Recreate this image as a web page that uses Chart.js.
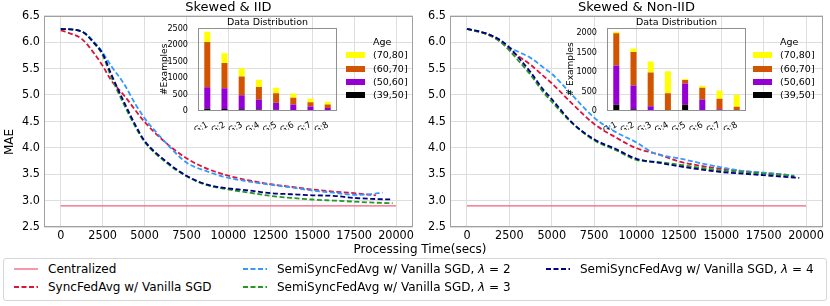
<!DOCTYPE html>
<html>
<head>
<meta charset="utf-8">
<script src="https://cdn.jsdelivr.net/npm/chart.js@4/dist/chart.umd.min.js"></script>
<style>
body { margin: 0; width: 830px; height: 306px; background: #fff; position: relative; overflow: hidden; font-family: 'DejaVu Sans', sans-serif; color: #000; }
canvas, .abs { position: absolute; }
.lbl { position: absolute; white-space: nowrap; font-size: 12px; }
.age { position: absolute; font-size: 9.5px; }
.age .row { position: absolute; left: 0; white-space: nowrap; height: 10px; line-height: 10px; }
.age .box { position: absolute; width: 19px; height: 6px; }
#legend { position: absolute; left: 3px; top: 258px; width: 822px; height: 41px; border: 1px solid #d6d6d6; border-radius: 3px; }
#legend .item { position: absolute; white-space: nowrap; font-size: 12px; line-height: 14px; }
#legend svg { position: absolute; }
</style>
</head>
<body>
<canvas id="mainL" width="415" height="250" style="left:0;top:0"></canvas>
<canvas id="mainR" width="415" height="250" style="left:415px;top:0"></canvas>
<canvas id="insetL" width="185" height="120" style="left:155px;top:10px"></canvas>
<canvas id="insetR" width="189" height="120" style="left:560px;top:10px"></canvas>
<div class="age" id="ageL" style="left:346px;top:37px"></div>
<div class="age" id="ageR" style="left:753px;top:37px"></div>
<div class="lbl" style="left:0;top:142px;transform:translate(-11px,-7px) rotate(-90deg);transform-origin:50% 50%;width:40px;text-align:center">MAE</div>
<div class="lbl" style="left:340px;top:242px;width:160px;text-align:center">Processing Time(secs)</div>
<div id="legend"></div>
<script>
// ---- main curves: time (secs) / MAE ----
const timeTicks = [0, 2500, 5000, 7500, 10000, 12500, 15000, 17500, 20000];
const maeTicks = [2.5, 3.0, 3.5, 4.0, 4.5, 5.0, 5.5, 6.0, 6.5];

const centralTime = [0, 20000];
const centralMae = [2.9, 2.9];

// Skewed & IID
const iidSyncTime = [0, 500, 1250, 2000, 2500, 3000, 3750, 5000, 6250, 7500, 8750, 10000, 11250, 12500, 13750, 15000, 16250, 17500, 18800];
const iidSyncMae = [6.22, 6.17, 6.06, 5.78, 5.55, 5.28, 5.0, 4.49, 4.1, 3.8, 3.6, 3.47, 3.38, 3.31, 3.26, 3.21, 3.17, 3.14, 3.1];
const iidL2Time = [0, 1250, 2000, 2500, 3000, 3750, 4500, 5000, 6250, 7500, 8750, 10000, 11250, 12500, 13750, 15000, 16250, 17500, 18500, 19200];
const iidL2Mae = [6.25, 6.2, 6.0, 5.8, 5.55, 5.22, 4.8, 4.56, 4.1, 3.72, 3.55, 3.43, 3.36, 3.3, 3.25, 3.19, 3.15, 3.11, 3.12, 3.15];
const iidL3Time = [0, 1250, 2000, 2500, 3000, 3750, 4500, 5000, 6250, 7500, 8750, 10000, 11250, 12500, 13750, 15000, 16250, 17500, 18750, 19800];
const iidL3Mae = [6.25, 6.2, 5.97, 5.75, 5.35, 4.83, 4.37, 4.11, 3.73, 3.46, 3.29, 3.21, 3.15, 3.09, 3.05, 3.02, 3.0, 2.98, 2.96, 2.95];
const iidL4Time = [0, 1250, 2000, 2500, 3000, 3750, 4500, 5000, 6250, 7500, 8750, 10000, 11250, 12500, 13750, 15000, 16250, 17500, 18750, 19800];
const iidL4Mae = [6.25, 6.2, 5.98, 5.78, 5.4, 4.88, 4.4, 4.13, 3.75, 3.47, 3.3, 3.23, 3.19, 3.14, 3.12, 3.1, 3.09, 3.05, 3.03, 3.02];

// Skewed & Non-IID
const nonSyncTime = [0, 1250, 2000, 2500, 3000, 3750, 4500, 5000, 6250, 7500, 8750, 10000, 11250, 12500, 13750, 15000, 16250, 17500, 18750, 19300];
const nonSyncMae = [6.25, 6.14, 6.0, 5.86, 5.74, 5.57, 5.36, 5.22, 4.82, 4.45, 4.2, 3.99, 3.88, 3.74, 3.66, 3.6, 3.56, 3.52, 3.49, 3.46];
const nonL2Time = [0, 1250, 2000, 2500, 3000, 3750, 4500, 5000, 6250, 7500, 8750, 10000, 11000, 12500, 13750, 15000, 15500, 16250, 17500, 18750, 19300];
const nonL2Mae = [6.25, 6.15, 6.02, 5.9, 5.82, 5.7, 5.52, 5.4, 4.98, 4.57, 4.3, 4.1, 3.9, 3.8, 3.71, 3.63, 3.6, 3.56, 3.53, 3.49, 3.47];
const nonL3Time = [0, 1250, 2000, 2500, 3000, 3750, 4500, 5000, 6250, 7500, 8750, 10000, 11250, 12500, 13750, 15000, 16250, 17500, 18750, 19300];
const nonL3Mae = [6.25, 6.14, 6.0, 5.84, 5.66, 5.38, 5.05, 4.87, 4.45, 4.14, 3.96, 3.77, 3.73, 3.68, 3.62, 3.57, 3.54, 3.51, 3.48, 3.46];
const nonL4Time = [0, 1250, 2000, 2500, 3000, 3750, 4500, 5000, 6250, 7500, 8750, 10000, 11250, 12500, 13750, 15000, 16250, 17500, 18750, 19600];
const nonL4Mae = [6.25, 6.15, 6.03, 5.9, 5.72, 5.43, 5.1, 4.92, 4.46, 4.16, 3.98, 3.79, 3.72, 3.65, 3.59, 3.54, 3.51, 3.48, 3.45, 3.43];

const seriesNames = ['Centralized', 'SyncFedAvg w/ Vanilla SGD',
  'SemiSyncFedAvg w/ Vanilla SGD, λ = 2', 'SemiSyncFedAvg w/ Vanilla SGD, λ = 3', 'SemiSyncFedAvg w/ Vanilla SGD, λ = 4'];
const seriesColors = ['#f0607c', '#dc143c', '#3399ff', '#229922', '#000080'];

// ---- inset: data distribution per group ----
const groups = ['G:1', 'G:2', 'G:3', 'G:4', 'G:5', 'G:6', 'G:7', 'G:8'];
const ageLabels = ['(39,50]', '(50,60]', '(60,70]', '(70,80]'];
const ageColors = ['#000000', '#9400d3', '#d35400', '#ffff00'];
const iidAge39 = [70, 55, 45, 40, 30, 20, 15, 10];
const iidAge50 = [640, 625, 425, 300, 210, 165, 115, 75];
const iidAge60 = [1380, 770, 570, 385, 290, 210, 125, 100];
const iidAge70 = [310, 300, 250, 220, 165, 125, 110, 90];
const nonAge39 = [150, 35, 0, 0, 155, 10, 0, 0];
const nonAge50 = [1010, 615, 115, 0, 545, 275, 40, 0];
const nonAge60 = [830, 860, 865, 450, 90, 305, 265, 100];
const nonAge70 = [40, 90, 285, 565, 25, 50, 215, 310];
const iidCountTicks = [0, 500, 1000, 1500, 2000, 2500];
const nonCountTicks = [0, 250, 500, 750, 1000, 1250, 1500, 1750, 2000];

const FONT = "'DejaVu Sans', sans-serif";
const COND = "'DejaVu Sans Condensed', 'DejaVu Sans', sans-serif";
const GRID = '#dedede';

// box round the plot area, like matplotlib spines
const frame = {
  id: 'frame',
  afterDatasetsDraw(chart, args, opts) {
    const a = chart.chartArea, ctx = chart.ctx;
    ctx.save();
    ctx.strokeStyle = opts.color || '#999';
    ctx.lineWidth = 1;
    ctx.strokeRect(Math.round(a.left) + 0.5, Math.round(a.top) + 0.5, Math.round(a.width) - 1, Math.round(a.height) - 1);
    ctx.restore();
  }
};
Chart.register(frame);

function curve(i, xs, ys) {
  return {
    label: seriesNames[i],
    data: xs.map((x, k) => ({ x: x, y: ys[k] })),
    borderColor: seriesColors[i],
    borderWidth: i === 0 ? 1.3 : 1.8,
    borderDash: i === 0 ? [] : [5, 2.5],
    pointRadius: 0,
    fill: false,
    cubicInterpolationMode: 'monotone',
    order: 4 - i
  };
}

function mainOptions(title, yWidth, padRight) {
  return {
    responsive: false,
    animation: false,
    layout: { padding: { left: 0, right: padRight, top: 0, bottom: 0 } },
    plugins: {
      legend: { display: false },
      tooltip: { enabled: false },
      title: { display: true, text: title, fullSize: false, color: '#000',
        font: { family: FONT, size: 13, weight: 'normal', lineHeight: 1.2 }, padding: { top: 0, bottom: 0 } },
      frame: { color: '#a0a0a0' }
    },
    scales: {
      x: {
        type: 'linear', min: -1000, max: 21000,
        afterBuildTicks: s => { s.ticks = timeTicks.map(v => ({ value: v })); },
        afterFit: s => { s.height = 23; },
        grid: { color: GRID, drawTicks: false },
        border: { display: false },
        ticks: { color: '#000', padding: 1, autoSkip: false, maxRotation: 0, callback: v => String(v),
          font: { family: COND, size: 12.5 } }
      },
      y: {
        min: 2.5, max: 6.5,
        afterBuildTicks: s => { s.ticks = maeTicks.map(v => ({ value: v })); },
        afterFit: s => { s.width = yWidth; },
        grid: { color: GRID, drawTicks: false },
        border: { display: false },
        ticks: { color: '#000', padding: 4, callback: v => v.toFixed(1), font: { family: COND, size: 12.5 } }
      }
    }
  };
}

new Chart(document.getElementById('mainL'), {
  type: 'line',
  data: { datasets: [
    curve(0, centralTime, centralMae),
    curve(1, iidSyncTime, iidSyncMae),
    curve(2, iidL2Time, iidL2Mae),
    curve(3, iidL3Time, iidL3Mae),
    curve(4, iidL4Time, iidL4Mae)
  ] },
  options: mainOptions('Skewed & IID', 44, 2)
});

new Chart(document.getElementById('mainR'), {
  type: 'line',
  data: { datasets: [
    curve(0, centralTime, centralMae),
    curve(1, nonSyncTime, nonSyncMae),
    curve(2, nonL2Time, nonL2Mae),
    curve(3, nonL3Time, nonL3Mae),
    curve(4, nonL4Time, nonL4Mae)
  ] },
  options: mainOptions('Skewed & Non-IID', 35, 7)
});

function bars(i, values) {
  return {
    label: ageLabels[i],
    data: values.map((v, k) => ({ x: k + 1, y: v })),
    backgroundColor: ageColors[i],
    borderWidth: 0,
    barPercentage: 0.35,
    categoryPercentage: 1
  };
}

function insetOptions(yMax, yTicks, yTitle, yWidth, titlePad) {
  return {
    responsive: false,
    animation: false,
    layout: { padding: { left: 0, right: 3, top: 0, bottom: 0 } },
    plugins: {
      legend: { display: false },
      tooltip: { enabled: false },
      title: { display: true, text: 'Data Distribution', fullSize: false, color: '#000',
        font: { family: FONT, size: 9.5, weight: 'normal', lineHeight: 1.2 }, padding: { top: 6.5, bottom: 0 } },
      frame: { color: '#909090' }
    },
    scales: {
      x: {
        type: 'linear', min: 0.46, max: 8.54, stacked: true, offset: false,
        afterBuildTicks: s => { s.ticks = groups.map((g, k) => ({ value: k + 1 })); },
        afterFit: s => { s.height = 19.3; },
        grid: { display: false, offset: false },
        border: { display: false },
        ticks: { color: '#000', padding: 1, autoSkip: false, minRotation: 30, maxRotation: 30,
          callback: v => groups[v - 1], font: { family: COND, size: 9 } }
      },
      y: {
        min: 0, max: yMax, stacked: true,
        afterBuildTicks: s => { s.ticks = yTicks.map(v => ({ value: v })); },
        afterFit: s => { s.width = yWidth; },
        grid: { display: false },
        border: { display: false },
        title: { display: true, text: yTitle, color: '#000', padding: { top: titlePad, bottom: 0 },
          font: { family: FONT, size: 9 } },
        ticks: { color: '#000', padding: 2, callback: v => String(v), font: { family: COND, size: 9 } }
      }
    }
  };
}

new Chart(document.getElementById('insetL'), {
  type: 'bar',
  data: { datasets: [bars(0, iidAge39), bars(1, iidAge50), bars(2, iidAge60), bars(3, iidAge70)] },
  options: insetOptions(2520, iidCountTicks, '#Examples', 43, 4)
});

new Chart(document.getElementById('insetR'), {
  type: 'bar',
  data: { datasets: [bars(0, nonAge39), bars(1, nonAge50), bars(2, nonAge60), bars(3, nonAge70)] },
  options: insetOptions(2130, nonCountTicks, '# Examples', 47, 5)
});

// inset legends ("Age"), highest band first
function ageLegend(id) {
  const el = document.getElementById(id);
  let html = '<div class="row" style="left:27px;top:0">Age</div>';
  for (let k = 0; k < ageLabels.length; k++) {
    const i = ageLabels.length - 1 - k;
    const top = 13.3 * (k + 1);
    html += '<div class="box" style="left:0;top:' + (top + 2) + 'px;background:' + ageColors[i] + '"></div>';
    html += '<div class="row" style="left:27px;top:' + top + 'px">' + ageLabels[i] + '</div>';
  }
  el.innerHTML = html;
}
ageLegend('ageL');
ageLegend('ageR');

// figure legend under both panels
const legendSlots = [[10, 10], [10, 28], [239, 10], [239, 28], [542, 10]];
const legendEl = document.getElementById('legend');
seriesNames.forEach((name, i) => {
  const [x, y] = legendSlots[i];
  const dash = i === 0 ? '' : ' stroke-dasharray="5 2.5"';
  const txt = name.replace('λ', '<i>λ</i>');
  legendEl.innerHTML += '<svg width="24" height="4" style="left:' + x + 'px;top:' + (y - 2) + 'px">' +
    '<line x1="0" y1="2" x2="24" y2="2" stroke="' + seriesColors[i] + '" stroke-width="' + (i === 0 ? 1.3 : 1.8) + '"' + dash + '/></svg>' +
    '<div class="item" style="left:' + (x + 34) + 'px;top:' + (y - 7) + 'px">' + txt + '</div>';
});
</script>
</body>
</html>
